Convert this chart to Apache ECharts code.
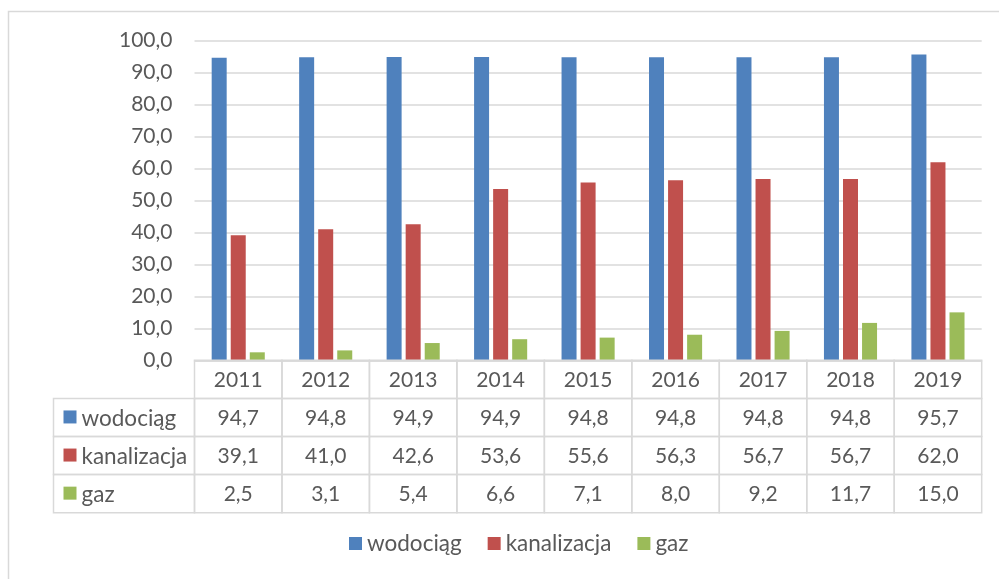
<!DOCTYPE html>
<html>
<head>
<meta charset="utf-8">
<script src="https://cdn.jsdelivr.net/npm/echarts@6/dist/echarts.min.js"></script>
<style>
html,body{margin:0;padding:0;background:#fff;}
#c{width:999px;height:579px;}
</style>
</head>
<body>
<div id="c"></div>
<script>
const years = ['2011','2012','2013','2014','2015','2016','2017','2018','2019'];
const seriesNames = ['wodociąg','kanalizacja','gaz'];
const wodociag = [94.7,94.8,94.9,94.9,94.8,94.8,94.8,94.8,95.7];
const kanalizacja = [39.1,41.0,42.6,53.6,55.6,56.3,56.7,56.7,62.0];
const gaz = [2.5,3.1,5.4,6.6,7.1,8.0,9.2,11.7,15.0];
const yTicks = {min:0, max:100, interval:10};

const colors = ['#4f81bd','#c0504d','#9bbb59'];
const values = [wodociag, kanalizacja, gaz];
const FONT = 'Lato, "Open Sans", sans-serif';
const FS = 21;
const FS_TXT = 22.5;
const TXT = '#595959';
const LINE = '#d9d9d9';
const fmt = v => v.toFixed(1).replace('.', ',');

const rowLabels = ['rok'].concat(seriesNames);
const cellData = [];
years.forEach((y, c) => {
  cellData.push([c, 0, y]);
  values.forEach((arr, s) => cellData.push([c, s + 1, fmt(arr[c])]));
});
const headData = seriesNames.map((n, s) => [0, s + 1, n, colors[s]]);

const chart = echarts.init(document.getElementById('c'));
const TABLE_LEFT = 53.5;

chart.setOption({
  animation: false,
  textStyle: {fontFamily: FONT},
  color: colors,
  graphic: [{
    type: 'rect', shape: {x: 8.5, y: 11.5, width: 1100, height: 700},
    style: {fill: 'none', stroke: LINE, lineWidth: 1.5}, silent: true, z: -10
  }],
  legend: {
    data: seriesNames, bottom: 19, left: 344,
    icon: 'rect', itemWidth: 13, itemHeight: 13, itemGap: 26,
    textStyle: {fontSize: FS_TXT, color: TXT, fontFamily: FONT}
  },
  grid: [
    {left: 194.5, right: 17.3, top: 40.7, bottom: 218.7},
    {left: 194.5, right: 17.3, top: 360.3, bottom: 66.3}
  ],
  xAxis: [
    {type: 'category', gridIndex: 0, data: years,
     axisLine: {show: true, lineStyle: {color: LINE, width: 1.5}},
     axisTick: {show: false}, axisLabel: {show: false}},
    {type: 'category', gridIndex: 1, data: years,
     axisLine: {show: false}, axisTick: {show: false}, axisLabel: {show: false}}
  ],
  yAxis: [
    {type: 'value', gridIndex: 0, min: yTicks.min, max: yTicks.max, interval: yTicks.interval,
     axisLine: {show: false}, axisTick: {show: false},
     splitLine: {lineStyle: {color: LINE, width: 1.5}},
     axisLabel: {formatter: v => fmt(v), fontSize: FS, color: TXT, margin: 22, fontFamily: FONT}},
    {type: 'category', gridIndex: 1, data: rowLabels, inverse: true,
     axisLine: {show: false}, axisTick: {show: false}, axisLabel: {show: false}, splitLine: {show: false}}
  ],
  series: values.map((arr, s) => ({
    name: seriesNames[s], type: 'bar', xAxisIndex: 0, yAxisIndex: 0,
    data: arr, barWidth: 15, barGap: '27%',
    itemStyle: {color: colors[s]}
  })).concat([
    {
      type: 'custom', xAxisIndex: 1, yAxisIndex: 1, data: cellData, clip: false, z: 5,
      renderItem: function(params, api) {
        const c = api.value(0), r = api.value(1);
        const p = api.coord([c, r]);
        const sz = api.size([1, 1]);
        const txt = cellData[params.dataIndex][2];
        return {
          type: 'group',
          children: [
            {type: 'rect', shape: {x: p[0] - sz[0] / 2, y: p[1] - sz[1] / 2, width: sz[0], height: sz[1]},
             style: {fill: 'none', stroke: LINE, lineWidth: 1.5}},
            {type: 'text', x: p[0], y: p[1] + 1,
             style: {text: txt, align: 'center', verticalAlign: 'middle', fill: TXT,
                     font: FS + 'px ' + FONT}}
          ]
        };
      }
    },
    {
      type: 'custom', xAxisIndex: 1, yAxisIndex: 1, data: headData, clip: false, z: 5,
      renderItem: function(params, api) {
        const r = api.value(1);
        const p = api.coord([0, r]);
        const sz = api.size([1, 1]);
        const right = p[0] - sz[0] / 2;
        const d = headData[params.dataIndex];
        return {
          type: 'group',
          children: [
            {type: 'rect', shape: {x: TABLE_LEFT, y: p[1] - sz[1] / 2, width: right - TABLE_LEFT, height: sz[1]},
             style: {fill: 'none', stroke: LINE, lineWidth: 1.5}},
            {type: 'rect', shape: {x: TABLE_LEFT + 10, y: p[1] - 7, width: 13, height: 13},
             style: {fill: d[3]}},
            {type: 'text', x: TABLE_LEFT + 28, y: p[1] + 1,
             style: {text: d[2], align: 'left', verticalAlign: 'middle', fill: TXT,
                     font: FS_TXT + 'px ' + FONT}}
          ]
        };
      }
    }
  ])
});
</script>
</body>
</html>
